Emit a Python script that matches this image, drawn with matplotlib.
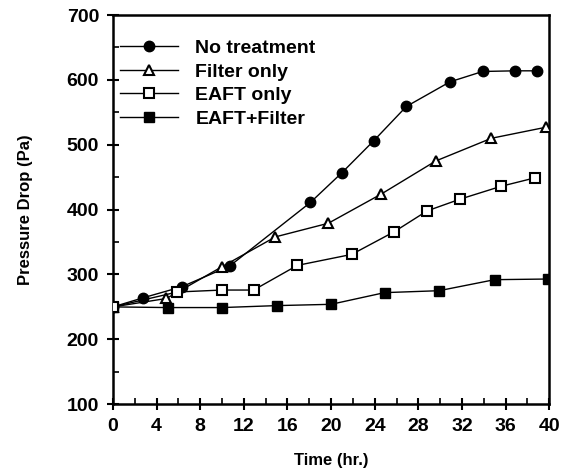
import matplotlib.pyplot as plt
from matplotlib.ticker import MultipleLocator

plt.rcParams['font.family'] = ['Liberation Sans', 'DejaVu Sans']
plt.rcParams['font.weight'] = 'bold'

# valeurs
t_none = [0, 2.75, 6.3, 10.7, 18.1, 21, 23.9, 26.9, 30.9, 33.9, 36.9, 38.9]
p_none = [250, 264, 281, 313, 411, 457, 506, 559, 597, 613, 614, 614]

t_filter = [0, 4.9, 10, 14.9, 19.75, 24.6, 29.6, 34.7, 39.7]
p_filter = [250, 263, 312, 358, 379, 424, 475, 510, 527]

t_eaft = [0, 5.9, 10, 12.9, 16.9, 21.9, 25.8, 28.8, 31.8, 35.6, 38.7]
p_eaft = [250, 273, 276, 276, 314, 331, 366, 398, 416, 436, 449]

t_both = [0, 5, 10, 15, 20, 24.9, 29.9, 35, 39.9]
p_both = [250, 249, 249, 252, 254, 272, 275, 292, 293]

fig = plt.figure(figsize=(5.65, 4.7), dpi=100)
ax = fig.add_axes([0.2, 0.14, 0.772, 0.828])

ax.plot(t_both, p_both, color='black', lw=1.0, marker='s', ms=7,
        mfc='black', mec='black', label='EAFT+Filter', zorder=2)
ax.plot(t_none, p_none, color='black', lw=1.0, marker='o', ms=7.5,
        mfc='black', mec='black', label='No treatment', zorder=3)
ax.plot(t_filter, p_filter, color='black', lw=1.0, marker='^', ms=6.5,
        mfc='white', mec='black', mew=1.5, label='Filter only', zorder=4)
ax.plot(t_eaft, p_eaft, color='black', lw=1.0, marker='s', ms=6.5,
        mfc='white', mec='black', mew=1.5, label='EAFT only', zorder=5)

ax.set_xlim(0, 40)
ax.set_ylim(100, 700)
ax.xaxis.set_major_locator(MultipleLocator(4))
ax.xaxis.set_minor_locator(MultipleLocator(2))
ax.yaxis.set_major_locator(MultipleLocator(100))
ax.yaxis.set_minor_locator(MultipleLocator(50))
ax.tick_params(which='major', direction='inout', length=8, width=1.5,
               labelsize=14, pad=6)
ax.tick_params(which='minor', direction='in', length=4, width=1.2)
for s in ax.spines.values():
    s.set_linewidth(1.8)

ax.set_xlabel('Time (hr.)', fontsize=12, fontweight='bold', labelpad=13)
ax.set_ylabel('Pressure Drop (Pa)', fontsize=12, fontweight='bold', labelpad=24)

h, l = ax.get_legend_handles_labels()
order = [1, 2, 3, 0]
ax.legend([h[i] for i in order], [l[i] for i in order], loc='upper left',
          bbox_to_anchor=(0.015, 0.937), frameon=False, fontsize=14,
          handlelength=3.0, handletextpad=0.9, labelspacing=0.3,
          borderaxespad=0, borderpad=0)

fig.savefig('out.png', dpi=100)
